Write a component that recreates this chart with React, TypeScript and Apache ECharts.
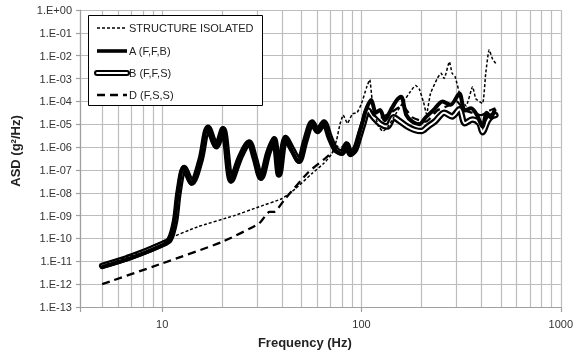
import React, { useEffect, useRef } from 'react';
import * as echarts from 'echarts';

// ---- Data (frequency in Hz, ASD in g^2/Hz) ----
const structureFreq = [5, 7, 10.5, 15, 23, 30.5, 40, 46.6, 56.4, 65, 71, 75, 78, 81, 85, 90, 95, 100, 106, 110, 113, 117, 122, 128, 135, 145, 160, 175, 187, 195, 205, 212, 222, 240, 251, 260, 276, 285, 295, 316, 335, 361, 375, 405, 420, 437, 455, 472];
const structureAsd = [6.3e-12, 1.8e-11, 8.9e-11, 3.2e-10, 1.0e-9, 2.4e-9, 5.6e-9, 1.5e-8, 6.9e-8, 2.0e-7, 5.2e-7, 2.0e-6, 1.0e-5, 2.5e-5, 1.1e-5, 2.8e-5, 3.2e-5, 7.9e-5, 4.0e-4, 8.9e-4, 1.3e-4, 2.5e-5, 7.9e-6, 5.0e-6, 7.1e-6, 2.0e-5, 7.9e-5, 2.5e-4, 5.0e-4, 3.5e-4, 8.9e-5, 2.8e-5, 2.2e-4, 1.0e-3, 1.7e-3, 1.0e-3, 5.4e-3, 1.7e-3, 1.2e-3, 1.3e-4, 6.3e-5, 4.4e-4, 1.3e-4, 8.1e-5, 1.6e-3, 1.8e-2, 7.1e-3, 4.6e-3];

const aFreq = [5, 7, 10, 10.8, 11.5, 12, 12.8, 14, 15.5, 16.9, 18.6, 20.1, 22.1, 24.5, 27.2, 29, 31.2, 34, 36.3, 38.5, 41.5, 45, 48.4, 52, 56.4, 60, 64.6, 69, 73.8, 79.6, 84, 88, 92.9, 97, 102, 106, 112, 118, 124, 131, 140, 150, 158, 168, 180, 195, 210, 230, 255, 280, 310, 330, 355, 380, 405, 425, 445, 465];
const aAsd = [5.6e-12, 1.4e-11, 5.0e-11, 7.9e-11, 5.0e-10, 1.0e-8, 1.35e-7, 2.5e-8, 2.5e-7, 7.8e-6, 1.0e-6, 6.6e-6, 3.0e-8, 3.2e-7, 1.7e-6, 3.2e-7, 4.2e-8, 5.0e-7, 2.4e-6, 5.9e-8, 2.8e-6, 6.3e-7, 2.2e-7, 1.6e-6, 1.3e-5, 4.7e-6, 1.3e-5, 2.5e-6, 7.4e-7, 5.2e-7, 1.45e-6, 4.5e-7, 7.4e-7, 3.2e-6, 1.5e-5, 5.0e-5, 1.15e-4, 3.2e-5, 4.2e-5, 1.5e-5, 4.0e-5, 1.1e-4, 1.6e-4, 2.5e-5, 1.3e-5, 1.0e-5, 2.0e-5, 4.2e-5, 1.0e-4, 7.1e-5, 2.2e-4, 4.0e-5, 5.0e-5, 2.5e-5, 7.9e-6, 3.2e-5, 2.0e-5, 4.0e-5];

const bFreq = [5, 7, 10, 10.9, 11.6, 12.1, 12.9, 14.1, 15.6, 17, 18.7, 20.2, 22.2, 24.6, 27.3, 29.1, 31.3, 34.1, 36.4, 38.6, 41.6, 45.2, 48.6, 52.2, 56.6, 60.2, 64.8, 69.2, 74, 79.8, 84.2, 88.2, 93, 97.5, 102, 108, 115, 125, 135, 145, 155, 170, 185, 200, 215, 235, 260, 285, 310, 330, 360, 390, 405, 430, 450, 470];
const bAsd = [6.3e-12, 1.6e-11, 5.6e-11, 8.9e-11, 5.6e-10, 1.1e-8, 1.2e-7, 2.8e-8, 2.8e-7, 7.1e-6, 1.1e-6, 6.0e-6, 3.5e-8, 3.5e-7, 1.6e-6, 3.5e-7, 4.5e-8, 5.6e-7, 2.2e-6, 6.3e-8, 2.5e-6, 7.1e-7, 2.5e-7, 1.8e-6, 1.2e-5, 5.0e-6, 1.2e-5, 2.8e-6, 8.1e-7, 5.6e-7, 1.3e-6, 5.0e-7, 7.9e-7, 2.8e-6, 1.0e-5, 4.0e-5, 2.0e-5, 1.0e-5, 7.9e-6, 2.0e-5, 1.4e-5, 7.9e-6, 5.6e-6, 5.0e-6, 7.9e-6, 1.4e-5, 3.2e-5, 2.2e-5, 4.5e-5, 1.1e-5, 1.6e-5, 1.1e-5, 4.5e-6, 1.4e-5, 2.2e-5, 2.5e-5];

const dFreq = [5, 10, 20, 30.6, 33, 34.5, 36.3, 41.5, 54.3, 65.8, 72, 78, 85, 92, 100, 108, 115, 125, 140, 160, 180, 210, 240, 270, 300, 330, 360, 400, 440, 470];
const dAsd = [1.0e-12, 8.1e-12, 7.1e-11, 4.5e-10, 1.0e-9, 1.45e-9, 1.45e-9, 5.6e-9, 8.1e-8, 3.2e-7, 6.3e-7, 1.3e-6, 6.3e-7, 1.0e-6, 1.0e-5, 6.3e-5, 2.5e-5, 2.0e-5, 3.2e-5, 6.3e-5, 2.0e-5, 1.3e-5, 4.0e-5, 6.3e-5, 1.0e-4, 4.0e-5, 3.2e-5, 2.5e-5, 4.0e-5, 5.0e-5];

const minorGridFreqs = [5, 6, 7, 8, 9, 20, 30, 40, 50, 60, 70, 80, 90, 200, 300, 400, 500, 600, 700, 800, 900];
const xLabelValues = [10, 100, 1000];

const legendNames = ['STRUCTURE ISOLATED', 'A (F,F,B)', 'B (F,F,S)', 'D (F,S,S)'];

function pairs(f: number[], v: number[]) {
  return f.map((x, i) => [x, v[i]]);
}

export default function App() {
  const ref = useRef<HTMLDivElement>(null);

  useEffect(() => {
    const chart = echarts.init(ref.current as HTMLDivElement, null, { renderer: 'svg' });
    const font = "'Liberation Sans', Arial, sans-serif";
    const gridColor = '#bdbdbd';
    const axisColor = '#a0a0a0';

    const lx1 = 97;
    const lx2 = 127;
    const rowY = [28, 51, 73, 95];

    chart.setOption({
      animation: false,
      grid: { left: 80, right: 11, top: 10, bottom: 47 },
      xAxis: {
        type: 'log',
        logBase: 10,
        min: 3.87,
        max: 1000,
        name: 'Frequency (Hz)',
        nameLocation: 'middle',
        nameGap: 29,
        nameTextStyle: { fontFamily: font, fontSize: 13, fontWeight: 'bold', color: '#222', padding: [0, 31, 0, 0] },
        axisLine: { show: true, onZero: false, lineStyle: { color: axisColor, width: 1.2 } },
        axisTick: { show: true, length: 5, lineStyle: { color: axisColor, width: 1.2 } },
        axisLabel: {
          fontFamily: font,
          fontSize: 11,
          color: '#333',
          margin: 11,
          formatter: (v: number) => {
            const r = Math.round(v);
            return xLabelValues.includes(r) && Math.abs(v - r) < 1e-6 ? String(r) : '';
          },
        },
        splitLine: { show: true, lineStyle: { color: gridColor, width: 1.2 } },
      },
      yAxis: [
        { type: 'log', logBase: 10, min: 1e-13, max: 1, show: false },
        {
          type: 'value',
          min: -13,
          max: 0,
          interval: 1,
          position: 'left',
          name: 'ASD (g²/Hz)',
          nameLocation: 'middle',
          nameGap: 58,
          nameRotate: 90,
          nameTextStyle: { fontFamily: font, fontSize: 13, fontWeight: 'bold', color: '#222', padding: [0, 0, 0, 15] },
          axisLine: { show: true, onZero: false, lineStyle: { color: axisColor, width: 1.2 } },
          axisTick: { show: true, length: 4, lineStyle: { color: axisColor, width: 1.2 } },
          axisLabel: {
            fontFamily: font,
            fontSize: 11,
            color: '#333',
            margin: 8,
            formatter: (v: number) => {
              const e = Math.round(v);
              if (e === 0) return '1.E+00';
              const a = Math.abs(e);
              return '1.E-' + (a < 10 ? '0' + a : String(a));
            },
          },
          splitLine: { show: true, lineStyle: { color: gridColor, width: 1.2 } },
        },
      ],
      series: [
        {
          type: 'line',
          name: 'B (F,F,S)',
          data: pairs(bFreq, bAsd),
          symbol: 'none',
          smooth: 0.3,
          silent: true,
          lineStyle: { color: '#000', width: 6.5, join: 'round', cap: 'round' },
        },
        {
          type: 'line',
          name: 'B (F,F,S) core',
          data: pairs(bFreq, bAsd),
          symbol: 'none',
          smooth: 0.3,
          silent: true,
          lineStyle: { color: '#fff', width: 2, join: 'round', cap: 'round' },
        },
        {
          type: 'line',
          name: 'A (F,F,B)',
          data: pairs(aFreq, aAsd),
          symbol: 'none',
          smooth: 0.3,
          silent: true,
          lineStyle: { color: '#000', width: 4, join: 'round', cap: 'round' },
        },
        {
          type: 'line',
          name: 'D (F,S,S)',
          data: pairs(dFreq, dAsd),
          symbol: 'none',
          smooth: 0.2,
          silent: true,
          lineStyle: { color: '#000', width: 2.3, type: [8, 5] },
        },
        {
          type: 'line',
          name: 'STRUCTURE ISOLATED',
          data: pairs(structureFreq, structureAsd),
          symbol: 'none',
          smooth: 0.15,
          silent: true,
          lineStyle: { color: '#000', width: 1.5, type: [3, 2] },
          markLine: {
            silent: true,
            z: 1,
            symbol: ['none', 'none'],
            label: { show: false },
            lineStyle: { color: gridColor, width: 1.2, type: 'solid' },
            emphasis: { disabled: true },
            animation: false,
            data: minorGridFreqs.map((f) => ({ xAxis: f })),
          },
        },
      ],
      graphic: [
        {
          type: 'rect',
          z: 100,
          shape: { x: 88.5, y: 15.5, width: 174, height: 90 },
          style: { fill: '#fff', stroke: '#000', lineWidth: 1 },
        },
        {
          type: 'line',
          z: 101,
          shape: { x1: lx1, y1: rowY[0], x2: lx2, y2: rowY[0] },
          style: { stroke: '#000', lineWidth: 1.5, lineDash: [3, 2] },
        },
        {
          type: 'line',
          z: 101,
          shape: { x1: lx1, y1: rowY[1], x2: lx2, y2: rowY[1] },
          style: { stroke: '#000', lineWidth: 3.6 },
        },
        {
          type: 'line',
          z: 101,
          shape: { x1: lx1, y1: rowY[2], x2: lx2, y2: rowY[2] },
          style: { stroke: '#000', lineWidth: 6, lineCap: 'round' },
        },
        {
          type: 'line',
          z: 102,
          shape: { x1: lx1, y1: rowY[2], x2: lx2, y2: rowY[2] },
          style: { stroke: '#fff', lineWidth: 1.8, lineCap: 'round' },
        },
        {
          type: 'line',
          z: 101,
          shape: { x1: lx1, y1: rowY[3], x2: lx2, y2: rowY[3] },
          style: { stroke: '#000', lineWidth: 2.3, lineDash: [8, 5] },
        },
        ...legendNames.map((name, i) => ({
          type: 'text',
          z: 103,
          x: 129,
          y: rowY[i],
          style: {
            text: name,
            fontFamily: font,
            fontSize: 11,
            fill: '#222',
            align: 'left',
            verticalAlign: 'middle',
          },
        })),
      ],
    });

    return () => chart.dispose();
  }, []);

  return <div ref={ref} style={{ position: 'fixed', left: 0, top: 0, width: 576, height: 354 }} />;
}
